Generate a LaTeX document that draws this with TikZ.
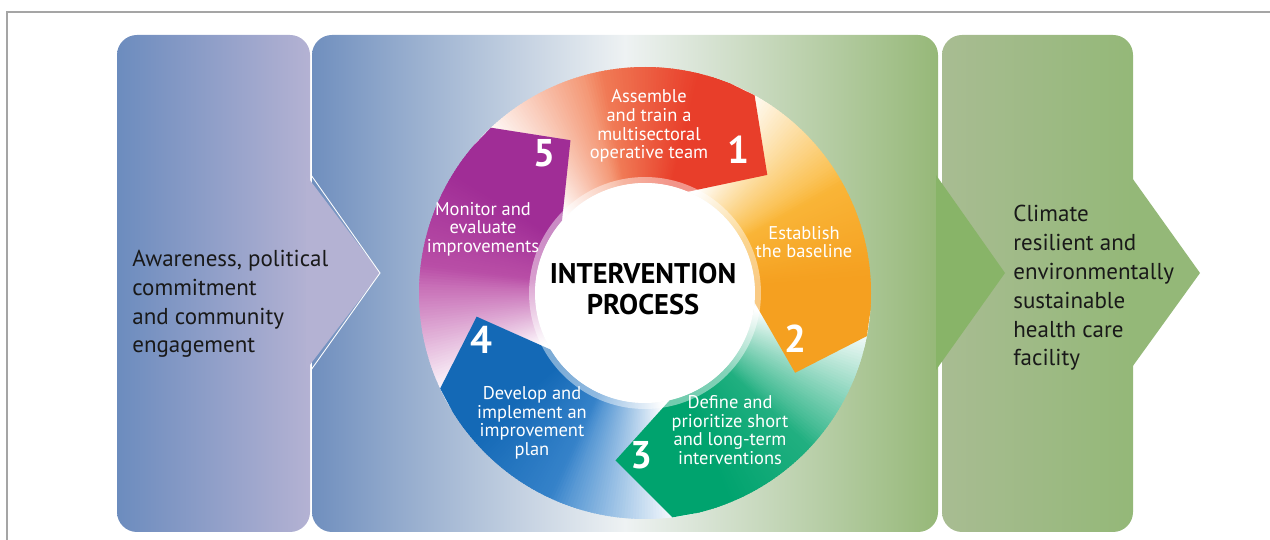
\documentclass[tikz,border=0pt]{standalone}
\usepackage{fontspec}
\setmainfont{PT Sans}
\usepackage{tikz}

\definecolor{frameline}{RGB}{165,165,165}
\definecolor{leftL}{RGB}{108,140,190}
\definecolor{leftR}{RGB}{180,178,211}
\definecolor{midL}{RGB}{112,143,190}
\definecolor{midM}{RGB}{238,242,243}
\definecolor{midR}{RGB}{150,184,120}
\definecolor{midtip}{RGB}{136,180,104}
\definecolor{rightL}{RGB}{168,188,146}
\definecolor{rightR}{RGB}{148,184,120}
\definecolor{redA}{RGB}{242,135,95}
\definecolor{redB}{RGB}{232,62,42}
\definecolor{orgA}{RGB}{250,185,60}
\definecolor{orgB}{RGB}{245,160,32}
\definecolor{grnA}{RGB}{40,178,132}
\definecolor{grnB}{RGB}{0,163,110}
\definecolor{bluA}{RGB}{60,135,205}
\definecolor{bluB}{RGB}{20,105,182}
\definecolor{purA}{RGB}{190,85,170}
\definecolor{purB}{RGB}{160,45,150}
\definecolor{sidetextc}{RGB}{25,25,25}

\begin{document}
\begin{tikzpicture}[x=0.02cm, y=0.02cm,
    ringtext/.style={text=white, align=center, font=\fontsize{10.5}{10.6}\selectfont},
    ringnum/.style={text=white, font=\fontsize{22}{22}\bfseries\selectfont},
    sidetext/.style={text=sidetextc, align=left, anchor=west, inner sep=0pt, font=\fontsize{13.1}{16.4}\selectfont}]
    \useasboundingbox (0,0) rectangle (1270,540);
    % 枠
    \draw[frameline, line width=0.6pt] (7,0) -- (7,528) -- (1270,528);

    % パネル (右, 中央, 左)
    \shade[left color=rightL, right color=rightR, rounded corners=0.4cm] (942,8) rectangle (1133,505);
    \fill[rightR] (1130,365) -- (1200,267) -- (1130,170) -- cycle;
    \shade[left color=midL, right color=midR, middle color=midM, rounded corners=0.4cm] (312,8) rectangle (938,505);
    \fill[midtip] (936,365) -- (1005,267) -- (936,170) -- cycle;
    \shade[left color=leftL, right color=leftR, rounded corners=0.4cm] (117,8) rectangle (310,505);
    \fill[leftR] (306,365) -- (380,267) -- (306,170) -- cycle;
    \draw[white, line width=0.5pt] (311,365) -- (380,267) -- (311,170);

    % 円環の矢印
    \begin{scope}[shift={(645,247)}]
        \foreach \h/\ca/\cb in {61/redA/redB, -11/orgA/orgB, -83/grnA/grnB, -155/bluA/bluB, -227/purA/purB}{
            \foreach \d in {78,77.25,...,6.75}{
                \pgfmathsetmacro{\p}{max(0,min(100,(74-\d)/34*100))}
                \pgfmathsetmacro{\q}{max(0,min(100,(45-\d)/30*100))}
                \colorlet{segc}{\cb!\q!\ca}
                \fill[segc!\p!white] ({\h+\d+0.4}:226) -- ({\h+\d-0.75}:226) -- ({\h+\d-0.75}:110) -- ({\h+\d+0.4}:110) -- cycle;
            }
        }
        % 矢じり
        \foreach \h/\cb in {61/redB, -11/orgB, -83/grnB, -155/bluB, -227/purB}{
            \fill[\cb] ({\h+12}:226) -- ({\h+6}:226) -- (\h:226) -- ({\h-17}:170)
                -- ({\h+6}:110) -- ({\h+9}:110) -- ({\h+12}:110) -- cycle;
        }
        \fill[white, opacity=0.45] (0,0) circle[radius=2.32cm];
        \fill[white] (0,0) circle[radius=2.2cm];
    \end{scope}

    % ラベル
    \node[ringtext] (step1) at (649,414) {Assemble\\and train a\\multisectoral\\operative team};
    \node[ringtext] (step2) at (804,298) {Establish\\the baseline};
    \node[ringtext] (step3) at (730,110) {Define and\\prioritize short\\and long-term\\interventions};
    \node[ringtext] (step4) at (532,117) {Develop and\\implement an\\improvement\\plan};
    \node[ringtext] (step5) at (483,311) {Monitor and\\evaluate\\improvements};
    \node[ringnum] (num1) at (738,390) {1};
    \node[ringnum] (num2) at (795,201) {2};
    \node[ringnum] (num3) at (641,85) {3};
    \node[ringnum] (num4) at (481,200) {4};
    \node[ringnum] (num5) at (544,387) {5};
    \node[align=center, font=\fontsize{16.2}{17.6}\bfseries\selectfont] (title) at (643,251) {INTERVENTION\\PROCESS};
    \node[sidetext] (aware) at (132,236) {Awareness, political\\commitment\\and community\\engagement};
    \node[sidetext] (goal) at (1013,252) {Climate\\resilient and\\environmentally\\sustainable\\health care\\facility};
\end{tikzpicture}
\end{document}
